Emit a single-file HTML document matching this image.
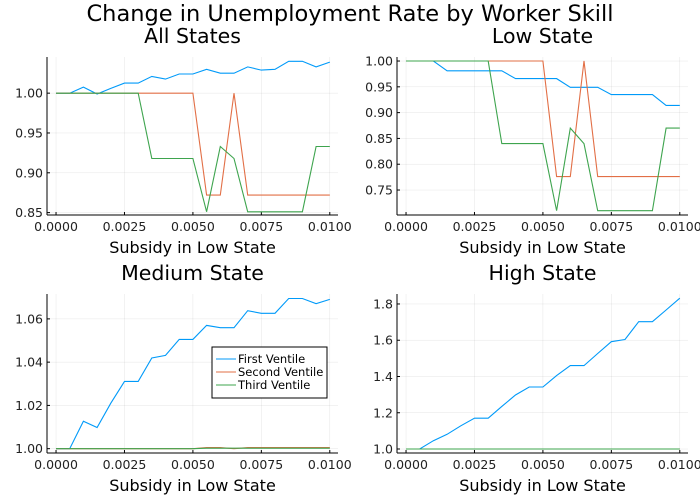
<!DOCTYPE html>
<html><head><meta charset="utf-8"><style>
body{margin:0;background:#fff}svg{display:block;font-family:"DejaVu Sans","Liberation Sans",sans-serif}
</style></head><body>
<svg id="c" width="700" height="500">
<text x="350" y="21" text-anchor="middle" font-size="22.5" fill="#000">Change in Unemployment Rate by Worker Skill</text>
</svg>
<script>
const xs=[0,0.0005,0.001,0.0015,0.002,0.0025,0.003,0.0035,0.004,0.0045,0.005,0.0055,0.006,0.0065,0.007,0.0075,0.008,0.0085,0.009,0.0095,0.01];
const seriesNames=["First Ventile","Second Ventile","Third Ventile"];
const colors=["#009af9","#e26f46","#3ea44e"];
const allBlue=[1,1,1.0076,0.999,1.006,1.0126,1.0126,1.021,1.0176,1.024,1.024,1.030,1.025,1.025,1.033,1.029,1.030,1.040,1.040,1.033,1.039];
const allOrange=[1,1,1,1,1,1,1,1,1,1,1,0.872,0.872,1,0.872,0.872,0.872,0.872,0.872,0.872,0.872];
const allGreen=[1,1,1,1,1,1,1,0.918,0.918,0.918,0.918,0.851,0.933,0.918,0.851,0.851,0.851,0.851,0.851,0.933,0.933];
const lowBlue=[1,1,1,0.981,0.981,0.981,0.981,0.981,0.966,0.966,0.966,0.966,0.949,0.949,0.949,0.935,0.935,0.935,0.935,0.914,0.914];
const lowOrange=[1,1,1,1,1,1,1,1,1,1,1,0.776,0.776,1,0.776,0.776,0.776,0.776,0.776,0.776,0.776];
const lowGreen=[1,1,1,1,1,1,1,0.84,0.84,0.84,0.84,0.71,0.87,0.84,0.71,0.71,0.71,0.71,0.71,0.87,0.87];
const medBlue=[1,1,1.0127,1.0098,1.021,1.0311,1.0311,1.0419,1.0431,1.0505,1.0505,1.057,1.0559,1.0559,1.0638,1.0626,1.0626,1.0694,1.0694,1.067,1.069];
const medOrange=[1,1,1,1,1,1,1,1,1,1,1,1.0005,1.0005,1,1.0005,1.0005,1.0005,1.0005,1.0005,1.0005,1.0005];
const medGreen=[1,1,1,1,1,1,1,1,1,1,1,1.0002,1.0002,1.0002,1.0002,1.0002,1.0002,1.0002,1.0002,1.0002,1.0002];
const highBlue=[1,1,1.046,1.081,1.128,1.17,1.17,1.235,1.298,1.342,1.342,1.405,1.46,1.46,1.527,1.592,1.604,1.702,1.702,1.767,1.832];
const highOrange=[1,1,1,1,1,1,1,1,1,1,1,1,1,1,1,1,1,1,1,1,1];
const highGreen=[1,1,1,1,1,1,1,1,1,1,1,1,1,1,1,1,1,1,1,1,1];
const xTicks=[0,0.0025,0.005,0.0075,0.01];
const xTickLabels=["0.0000","0.0025","0.0050","0.0075","0.0100"];
const panels=[
 {name:"all-states",title:"All States",L:47,R:338,T:57,B:215,ymin:0.847,ymax:1.0454,yt:[0.85,0.9,0.95,1.0],yl:["0.85","0.90","0.95","1.00"],s:[allBlue,allOrange,allGreen]},
 {name:"low-state",title:"Low State",L:397,R:688,T:57,B:215,ymin:0.7016,ymax:1.0078,yt:[0.75,0.8,0.85,0.9,0.95,1.0],yl:["0.75","0.80","0.85","0.90","0.95","1.00"],s:[lowBlue,lowOrange,lowGreen]},
 {name:"medium-state",title:"Medium State",L:47,R:338,T:294,B:453,ymin:0.998,ymax:1.0715,yt:[1.0,1.02,1.04,1.06],yl:["1.00","1.02","1.04","1.06"],s:[medBlue,medOrange,medGreen],legend:true},
 {name:"high-state",title:"High State",L:397,R:688,T:294,B:453,ymin:0.978,ymax:1.855,yt:[1.0,1.2,1.4,1.6,1.8],yl:["1.0","1.2","1.4","1.6","1.8"],s:[highBlue,highOrange,highGreen]}
];
const svg=document.getElementById('c');
const NS="http://www.w3.org/2000/svg";
function mk(t,a,parent){const e=document.createElementNS(NS,t);for(const k in a)e.setAttribute(k,a[k]);(parent||svg).appendChild(e);return e;}
panels.forEach(p=>{
 const g=mk('g',{});
 
 
 const xmin=-0.00033,xmax=0.0103;
 const X=v=>p.L+(v-xmin)/(xmax-xmin)*(p.R-p.L);
 const Y=v=>p.B-(v-p.ymin)/(p.ymax-p.ymin)*(p.B-p.T);
 xTicks.forEach((t,i)=>{
  mk('line',{x1:X(t),x2:X(t),y1:p.T,y2:p.B,stroke:'#000','stroke-opacity':0.1,'stroke-width':0.5},g);
  mk('line',{x1:X(t),x2:X(t),y1:p.B-3,y2:p.B,stroke:'#000','stroke-width':1},g);
  const tl=mk('text',{x:X(t),y:p.B+16,'text-anchor':'middle','font-size':12.5,fill:'#222'},g);
  tl.textContent=xTickLabels[i];
  
  
 });
 p.yt.forEach((t,i)=>{
  mk('line',{x1:p.L,x2:p.R,y1:Y(t),y2:Y(t),stroke:'#000','stroke-opacity':0.1,'stroke-width':0.5},g);
  mk('line',{x1:p.L,x2:p.L+3,y1:Y(t),y2:Y(t),stroke:'#000','stroke-width':1},g);
  const tl=mk('text',{x:p.L-4,y:Y(t)+4.5,'text-anchor':'end','font-size':12.5,fill:'#222'},g);
  tl.textContent=p.yl[i];
  
  
 });
 mk('line',{x1:p.L,x2:p.L,y1:p.T,y2:p.B,stroke:'#000','stroke-width':1},g);
 mk('line',{x1:p.L,x2:p.R,y1:p.B,y2:p.B,stroke:'#000','stroke-width':1},g);
 const tt=mk('text',{x:(p.L+p.R)/2,y:p.T-14,'text-anchor':'middle','font-size':20.5,fill:'#000'},g);
 tt.textContent=p.title;
 
 
 const xl=mk('text',{x:(p.L+p.R)/2,y:p.B+38,'text-anchor':'middle','font-size':16,fill:'#000'},g);
 xl.textContent="Subsidy in Low State";
 
 
 p.s.forEach((arr,si)=>{
  const pts=arr.map((v,i)=>X(xs[i]).toFixed(1)+','+Y(v).toFixed(1)).join(' ');
  const pl=mk('polyline',{points:pts,fill:'none',stroke:colors[si],'stroke-width':1.1},g);
  
  
 });
 if(p.legend){
  const lg=mk('g',{},g);
  
  
  mk('rect',{x:212,y:347,width:115,height:51,fill:'#fff',stroke:'#000','stroke-width':1},lg);
  seriesNames.forEach((n,i)=>{
   const yy=359+i*13;
   mk('line',{x1:216,x2:236,y1:yy,y2:yy,stroke:colors[i],'stroke-width':1.1},lg);
   const t=mk('text',{x:238,y:yy+4,'font-size':11.5,fill:'#000'},lg);
   t.textContent=n;
   
   
  });
 }
});
</script>
</body></html>
